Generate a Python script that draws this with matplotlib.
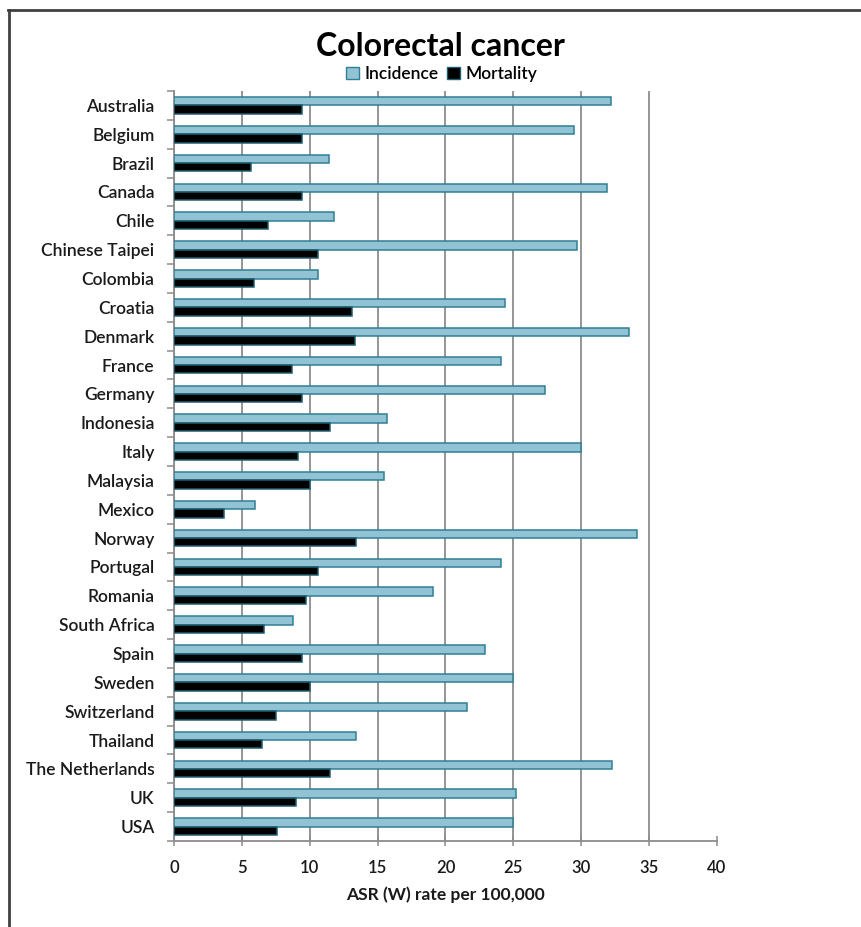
import numpy as np
import matplotlib
matplotlib.use("Agg")
import matplotlib.pyplot as plt
from matplotlib.patches import Patch
from matplotlib.lines import Line2D

plt.rcParams['font.family'] = ['Lato', 'DejaVu Sans']

countries = ["Australia", "Belgium", "Brazil", "Canada", "Chile", "Chinese Taipei",
             "Colombia", "Croatia", "Denmark", "France", "Germany", "Indonesia",
             "Italy", "Malaysia", "Mexico", "Norway", "Portugal", "Romania",
             "South Africa", "Spain", "Sweden", "Switzerland", "Thailand",
             "The Netherlands", "UK", "USA"]

incidence = [32.2, 29.5, 11.4, 31.9, 11.8, 29.7,
             10.6, 24.4, 33.5, 24.1, 27.3, 15.7,
             30.0, 15.5, 6.0, 34.1, 24.1, 19.1,
             8.8, 22.9, 25.0, 21.6, 13.4,
             32.3, 25.2, 25.0]

mortality = [9.4, 9.4, 5.7, 9.4, 6.9, 10.6,
             5.9, 13.1, 13.3, 8.7, 9.4, 11.5,
             9.1, 10.0, 3.7, 13.4, 10.6, 9.7,
             6.6, 9.4, 10.0, 7.5, 6.5,
             11.5, 9.0, 7.6]

xticks = [0, 5, 10, 15, 20, 25, 30, 35, 40]

inc_face = "#92C3D5"
inc_edge = "#2F7F95"
mort_face = "#000000"
mort_edge = "#1F5F6F"
grid_col = "#8C8C8C"
text_col = "#1A1A1A"

fig = plt.figure(figsize=(8.62, 9.27), dpi=100)
ax = fig.add_axes([174 / 862, 1 - 841 / 927, (717 - 174) / 862, (841 - 91) / 927])

n = len(countries)
pos = np.arange(n)
h = 0.29
ax.barh(pos - h / 2, incidence, height=h, color=inc_face, edgecolor=inc_edge,
        linewidth=1.1, zorder=3, label="Incidence")
ax.barh(pos + h / 2, mortality, height=h, color=mort_face, edgecolor=mort_edge,
        linewidth=1.1, zorder=3, label="Mortality")

ax.set_ylim(n - 0.5, -0.5)
ax.set_xlim(0, 40)

# category labels centred, tick marks between categories
ax.set_yticks(pos)
ax.set_yticklabels(countries, fontsize=12.5, color=text_col, fontweight='semibold')
ax.set_yticks(np.arange(-0.5, n, 1.0), minor=True)
ax.tick_params(axis='y', which='major', length=0, pad=14)
ax.tick_params(axis='y', which='minor', length=5, width=1.1, color=grid_col,
               direction='out')

ax.set_xticks(xticks)
ax.set_xticklabels([str(t) for t in xticks], fontsize=12, color=text_col,
                   fontweight='semibold')
ax.tick_params(axis='x', which='major', length=7, width=1.1, color=grid_col,
               direction='inout', pad=10)

ax.xaxis.grid(True, color=grid_col, linewidth=1.3, zorder=0)
ax.xaxis.get_gridlines()[-1].set_visible(False)
ax.set_axisbelow(True)

for side in ("top", "right"):
    ax.spines[side].set_visible(False)
for side in ("left", "bottom"):
    ax.spines[side].set_color(grid_col)
    ax.spines[side].set_linewidth(1.3)

ax.set_xlabel("ASR (W) rate per 100,000", fontsize=12.5, fontweight='bold',
              color=text_col, labelpad=8)

fig.text(440 / 862, 1 - 46 / 927, "Colorectal cancer", fontsize=23,
         fontweight='bold', ha='center', va='center', color="#000000")

handles = [Patch(facecolor=inc_face, edgecolor=inc_edge, linewidth=1.0),
           Patch(facecolor=mort_face, edgecolor=mort_edge, linewidth=1.0)]
fig.legend(handles, ["Incidence", "Mortality"], loc='center',
           bbox_to_anchor=(442 / 862, 1 - 74 / 927), ncol=2, frameon=False,
           prop={'size': 12.5, 'weight': 'semibold'},
           handlelength=0.75, handleheight=0.75,
           handletextpad=0.3, columnspacing=0.5, borderpad=0)

# page frame (top and left edges)
fig.add_artist(Line2D([8 / 862, 1.0], [1 - 10 / 927, 1 - 10 / 927],
                      transform=fig.transFigure, color="#404040", linewidth=2))
fig.add_artist(Line2D([9 / 862, 9 / 862], [0, 1 - 10 / 927],
                      transform=fig.transFigure, color="#404040", linewidth=2))

fig.savefig("out.png", dpi=100)
